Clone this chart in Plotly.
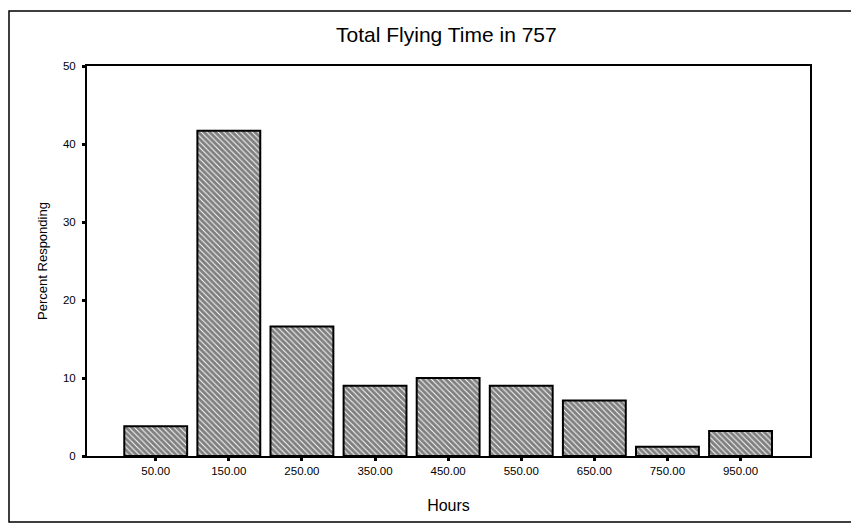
import plotly.graph_objects as go

categories = ["50.00", "150.00", "250.00", "350.00", "450.00", "550.00", "650.00", "750.00", "950.00"]
percent = [3.8, 41.7, 16.6, 9.0, 10.0, 9.0, 7.1, 1.2, 3.2]
y_ticks = [0, 10, 20, 30, 40, 50]

# page body offsets the figure by 8px; compensate
OFF = 8
W, H = 859, 527
L = 87 - OFF
T = 66 - OFF
R = W - (810 - OFF)
B = H - (456 - OFF)
pw, ph = W - L - R, H - T - B

def px(x):
    return (x - OFF - L) / pw

def py(y):
    return (H - B - (y - OFF)) / ph

fig = go.Figure()
fig.add_trace(go.Bar(
    x=list(range(len(categories))),
    y=percent,
    width=0.86,
    marker=dict(
        color="white",
        line=dict(color="black", width=2),
        pattern=dict(shape="\\", fgcolor="black", bgcolor="white", size=4, solidity=0.76),
    ),
))

fig.update_layout(
    width=W, height=H,
    margin=dict(l=L, r=R, t=T, b=B),
    paper_bgcolor="white", plot_bgcolor="white",
    showlegend=False,
    font=dict(family="Liberation Sans, Arial, sans-serif", color="black"),
    title=dict(text="Total Flying Time in 757", x=px(456), xanchor="center",
               y=1 - (35 - OFF) / H, yanchor="middle", font=dict(size=21)),
    xaxis=dict(
        range=[-0.94, 8.95], tickmode="array",
        tickvals=list(range(len(categories))), ticktext=categories,
        showgrid=False, zeroline=False,
        showline=True, linecolor="black", linewidth=2, mirror=True,
        ticks="outside", ticklen=3, tickwidth=3, tickcolor="black",
        tickfont=dict(size=11.5),
        title=dict(text="Hours", font=dict(size=16), standoff=24),
    ),
    yaxis=dict(
        range=[0, 50], tickvals=y_ticks,
        showgrid=False, zeroline=False,
        showline=True, linecolor="black", linewidth=2, mirror=True,
        ticks="outside", ticklen=3, tickwidth=3, tickcolor="black",
        ticklabelstandoff=4,
        tickfont=dict(size=11.5),
        title=dict(text="Percent Responding", font=dict(size=13), standoff=12),
    ),
    shapes=[dict(type="rect", xref="paper", yref="paper",
                 x0=px(9), x1=px(855), y0=py(522), y1=py(11),
                 line=dict(color="black", width=1.5), fillcolor="rgba(0,0,0,0)",
                 layer="below")],
)

fig.write_html("out.html")
